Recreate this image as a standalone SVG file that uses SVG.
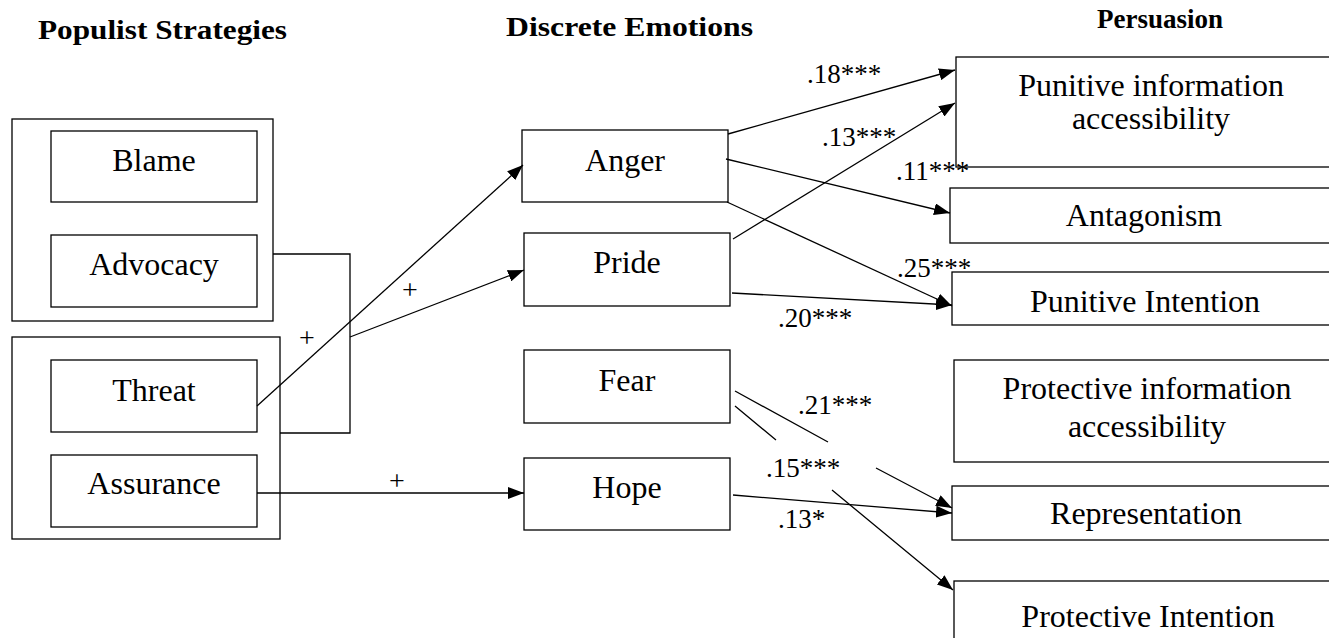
<svg xmlns="http://www.w3.org/2000/svg" width="1329" height="638" viewBox="0 0 1329 638">
<style>
  .box { fill: #fff; stroke: #000; stroke-width: 1.3; }
  .t { font-family: "Liberation Serif", "Times New Roman", serif; font-size: 32px; fill: #000; text-anchor: middle; }
  .h { font-family: "Liberation Serif", "Times New Roman", serif; font-size: 27px; font-weight: bold; fill: #000; }
  .lbl { font-family: "Liberation Serif", "Times New Roman", serif; font-size: 27px; fill: #000; }
  .plus { font-family: "Liberation Serif", "Times New Roman", serif; font-size: 28px; fill: #000; text-anchor: middle; }
  .ln { fill: none; stroke: #000; stroke-width: 1.3; }
  .arr { marker-end: url(#ah); }
</style>
<defs>
  <marker id="ah" markerUnits="userSpaceOnUse" markerWidth="16" markerHeight="12" refX="16" refY="6" orient="auto">
    <path d="M0,0 L16,6 L0,12 z" fill="#000"/>
  </marker>
</defs>
<rect width="1329" height="638" fill="#fff"/>

<g id="titles">
  <text class="h" x="38" y="39" textLength="249" lengthAdjust="spacingAndGlyphs">Populist Strategies</text>
  <text class="h" x="506" y="36" textLength="247" lengthAdjust="spacingAndGlyphs">Discrete Emotions</text>
  <text class="h" x="1097" y="28">Persuasion</text>
</g>

<g id="group-blame-advocacy"><rect class="box" x="12" y="119" width="261" height="202"/></g>
<g id="group-threat-assurance"><rect class="box" x="12" y="337" width="268" height="202"/></g>

<g id="blame"><rect class="box" x="51" y="131" width="206" height="71"/><text class="t" x="154" y="171">Blame</text></g>
<g id="advocacy"><rect class="box" x="51" y="235" width="206" height="72"/><text class="t" x="154" y="275">Advocacy</text></g>
<g id="threat"><rect class="box" x="51" y="360" width="206" height="72"/><text class="t" x="154" y="401">Threat</text></g>
<g id="assurance"><rect class="box" x="51" y="455" width="206" height="72"/><text class="t" x="154" y="494">Assurance</text></g>

<g id="anger"><rect class="box" x="522" y="130" width="206" height="72"/><text class="t" x="625" y="171">Anger</text></g>
<g id="pride"><rect class="box" x="524" y="233" width="206" height="73"/><text class="t" x="627" y="273">Pride</text></g>
<g id="fear"><rect class="box" x="524" y="350" width="206" height="73"/><text class="t" x="627" y="391">Fear</text></g>
<g id="hope"><rect class="box" x="524" y="458" width="206" height="72"/><text class="t" x="627" y="498">Hope</text></g>

<g id="punitive-info"><rect class="box" x="956" y="57" width="400" height="110"/><text class="t" x="1151" y="96">Punitive information</text><text class="t" x="1151" y="129">accessibility</text></g>
<g id="antagonism"><rect class="box" x="950" y="188" width="400" height="55"/><text class="t" x="1144" y="226">Antagonism</text></g>
<g id="punitive-intention"><rect class="box" x="952" y="272" width="400" height="53"/><text class="t" x="1145" y="312">Punitive Intention</text></g>
<g id="protective-info"><rect class="box" x="954" y="360" width="400" height="102"/><text class="t" x="1147" y="399">Protective information</text><text class="t" x="1147" y="437">accessibility</text></g>
<g id="representation"><rect class="box" x="952" y="486" width="400" height="54"/><text class="t" x="1146" y="524">Representation</text></g>
<g id="protective-intention"><rect class="box" x="954" y="581" width="400" height="80"/><text class="t" x="1148" y="627">Protective Intention</text></g>

<g id="connectors">
  <polyline class="ln" points="273,254 350,254 350,433 280,433"/>
  <line class="ln arr" x1="257" y1="406" x2="523" y2="165"/>
  <line class="ln arr" x1="350" y1="337" x2="524" y2="270"/>
  <line class="ln arr" x1="257" y1="493" x2="524" y2="493"/>
  <line class="ln arr" x1="728" y1="134" x2="955" y2="70"/>
  <line class="ln arr" x1="733" y1="239" x2="955" y2="103"/>
  <line class="ln arr" x1="726" y1="159" x2="950" y2="213"/>
  <line class="ln arr" x1="727" y1="202" x2="952" y2="306"/>
  <line class="ln arr" x1="732" y1="293" x2="952" y2="305"/>
  <path class="ln arr" d="M735,391 L828,442 M876,468 L952,508"/>
  <path class="ln arr" d="M735,406 L776,440 M832,490 L953,590"/>
  <line class="ln arr" x1="733" y1="495" x2="952" y2="513"/>
</g>

<g id="labels">
  <text class="plus" x="307" y="347">+</text>
  <text class="plus" x="410" y="299">+</text>
  <text class="plus" x="397" y="490">+</text>
  <text class="lbl" x="807" y="83">.18***</text>
  <text class="lbl" x="822" y="146">.13***</text>
  <text class="lbl" x="896" y="180">.11***</text>
  <text class="lbl" x="897" y="277">.25***</text>
  <text class="lbl" x="778" y="327">.20***</text>
  <text class="lbl" x="798" y="414">.21***</text>
  <text class="lbl" x="766" y="477">.15***</text>
  <text class="lbl" x="778" y="528">.13*</text>
</g>
</svg>
